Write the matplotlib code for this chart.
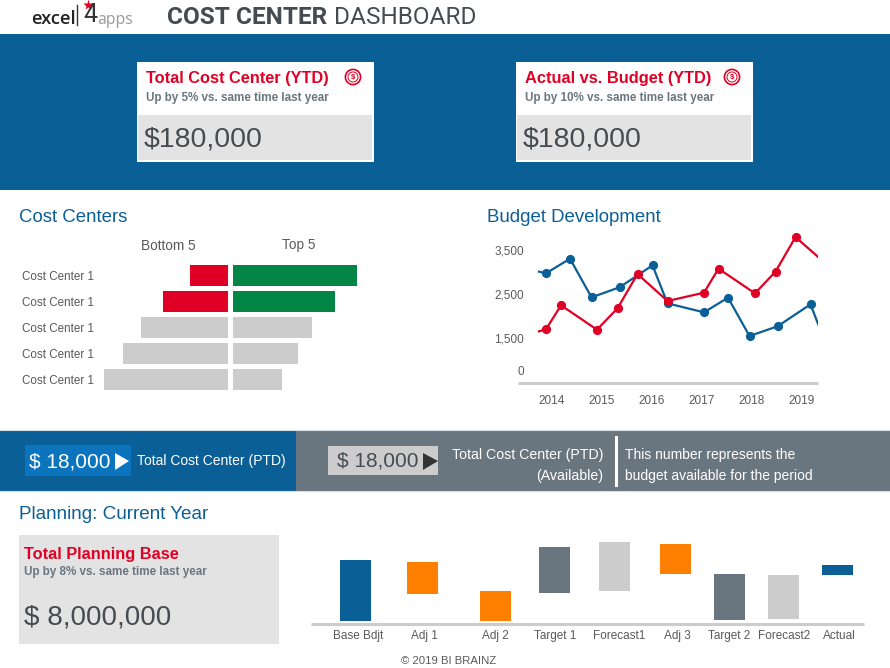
import matplotlib
matplotlib.use("Agg")
import matplotlib.pyplot as plt
from matplotlib.patches import Rectangle, Polygon, Circle

W, H = 890, 668
BLUE = "#0B5F97"
RED = "#E10025"
GREEN = "#038545"
GREY = "#CCCCCC"
SLATE = "#6A767F"
PALE = "#E3E3E3"
ORANGE = "#FF8000"
DARK = "#454B50"
TXT = "#595959"

plt.rcParams["font.family"] = ["Liberation Sans", "DejaVu Sans"]

# cost centers
cc_labels = ["Cost Center 1"] * 5
bottom5 = [38, 65, 87, 105, 124]
top5 = [124, 102, 79, 65, 49]
bottom_cols = [RED, RED, GREY, GREY, GREY]
top_cols = [GREEN, GREEN, GREY, GREY, GREY]

# budget development
years = [2014, 2015, 2016, 2017, 2018, 2019]
blue_t = [2013.74, 2013.88, 2014.36, 2014.79, 2015.35, 2016.01, 2016.31, 2017.04, 2017.52, 2017.95, 2018.51, 2019.17, 2019.33]
blue_v = [3008, 2970, 3303, 2424, 2652, 3152, 2288, 2083, 2417, 1545, 1765, 2265, 1795]
red_t = [2013.74, 2013.88, 2014.18, 2014.90, 2015.31, 2015.71, 2016.31, 2017.04, 2017.33, 2018.06, 2018.47, 2018.87, 2019.33]
red_v = [1652, 1697, 2243, 1689, 2174, 2955, 2341, 2530, 3076, 2515, 3008, 3795, 3334]
ytick_pos = [750, 1500, 2500, 3500]
ytick_txt = ["0", "1,500", "2,500", "3,500"]

# planning
plan_labels = ["Base Bdjt", "Adj 1", "Adj 2", "Target 1", "Forecast1", "Adj 3", "Target 2", "Forecast2", "Actual"]
plan_low = [3, 30, 3, 31, 33, 50, 4, 5, 49]
plan_high = [64, 62, 33, 77, 82, 80, 50, 49, 59]
plan_cols = [BLUE, ORANGE, ORANGE, SLATE, GREY, ORANGE, SLATE, GREY, BLUE]
plan_x = [355.5, 422.5, 495.5, 554.5, 614.5, 675.5, 729.5, 783, 837.5]
plan_tick_x = [358, 424, 495.5, 555, 619, 677, 729, 784, 839]


def px_axes(x0, y0, x1, y1):
    # axes placed by pixel box, y measured from the top of the image
    return fig.add_axes([x0 / W, 1 - y1 / H, (x1 - x0) / W, (y1 - y0) / H], facecolor="none")


def box(x0, y0, x1, y1, col, **kw):
    bg.add_patch(Rectangle((x0, y0), x1 - x0, y1 - y0, facecolor=col, edgecolor="none", **kw))


def txt(x, y, s, size, col=TXT, ha="left", **kw):
    bg.text(x, y + 1.5, s, fontsize=size, color=col, ha=ha, va="center", **kw)


def kpi_card(x):
    box(x, 62, x + 237, 162, "white")
    box(x + 0.5, 115, x + 235, 160, PALE)
    txt(x + 9, 77, "Total Cost Center (YTD)" if x < 300 else "Actual vs. Budget (YTD)", 11.8, RED, weight="bold")
    txt(x + 9, 96, "Up by 5% vs. same time last year" if x < 300 else "Up by 10% vs. same time last year", 8.35, SLATE, weight="bold")
    txt(x + 7, 137.5, "$180,000", 20.5, DARK)
    cx = x + 216
    bg.add_patch(Circle((cx, 77), 7.6, facecolor="white", edgecolor=RED, linewidth=1.2))
    bg.add_patch(Circle((cx, 77), 5, facecolor="white", edgecolor=RED, linewidth=0.7))
    txt(cx, 76, "$", 5.5, RED, ha="center", weight="bold")


fig = plt.figure(figsize=(8.9, 6.68), dpi=100, facecolor="white")
bg = fig.add_axes([0, 0, 1, 1])
bg.set_xlim(0, W)
bg.set_ylim(H, 0)
bg.axis("off")

# header
txt(31, 17.5, "excel", 13.2, "#222222", family="Open Sans", weight="semibold")
bg.plot([77, 77], [5, 25], color="#333333", lw=1)
txt(83, 14, "4", 18, "#333333", family="Roboto")
txt(97, 18.5, "apps", 11.3, "#999999", family="Open Sans")
bg.plot([88], [5], marker="*", ms=8, color=RED, mec="none")
txt(167, 16, "COST CENTER", 17.6, DARK, family="Roboto", weight="bold")
txt(334, 16, "DASHBOARD", 17.6, DARK, family="Roboto")

# bands
box(0, 34, W, 190, BLUE)
kpi_card(137)
kpi_card(516)
box(0, 430, 296, 491, BLUE)
box(296, 430, W, 491, SLATE)
bg.plot([0, W], [430, 430], color="#D5DEE5", lw=0.8)
bg.plot([0, W], [491, 491], color="#D5DEE5", lw=0.8)

box(25, 445, 131, 476, "#0B74BD")
txt(29, 460, "$ 18,000", 15, "white")
bg.add_patch(Polygon([(115, 453), (129, 461), (115, 470)], facecolor="white"))
txt(137, 459.5, "Total Cost Center (PTD)", 10, "white")

box(328, 446, 438, 475, GREY)
txt(337, 459.5, "$ 18,000", 15, DARK)
bg.add_patch(Polygon([(423, 453), (438, 461), (423, 470)], facecolor="#333333"))
txt(603, 453.5, "Total Cost Center (PTD)", 10.2, "white", ha="right")
txt(603, 474.5, "(Available)", 10.2, "white", ha="right")
bg.plot([616, 616], [437, 485], color="white", lw=2.2)
txt(625, 454, "This number represents the", 10, "white")
txt(625, 474.5, "budget available for the period", 10, "white")

# section headings
txt(19, 216, "Cost Centers", 13.4, BLUE)
txt(487, 216, "Budget Development", 13.4, BLUE)
txt(19, 513, "Planning: Current Year", 13.6, BLUE)
txt(168.5, 244.5, "Bottom 5", 9.8, TXT, ha="center")
txt(298.5, 244, "Top 5", 9.8, TXT, ha="center")

# planning card
box(19, 535, 279, 644, PALE)
txt(24, 553, "Total Planning Base", 11.8, RED, weight="bold")
txt(24, 571, "Up by 8% vs. same time last year", 8.35, SLATE, weight="bold")
txt(24, 616, "$ 8,000,000", 20, DARK)
txt(449, 659.5, "\u00a9 2019 BI BRAINZ", 8.2, TXT, ha="center")

# bottom 5 / top 5 bars
ax_b = px_axes(100, 262, 228, 393)
ax_b.barh(range(5), bottom5, height=0.8, color=bottom_cols)
ax_b.set_xlim(128, 0)
ax_b.set_ylim(4.5, -0.5)
ax_b.set_yticks(range(5), cc_labels, fontsize=8.4, color=TXT)
ax_b.tick_params(axis="y", length=0, pad=4.5)
ax_b.xaxis.set_visible(False)
for s in ax_b.spines.values():
    s.set_visible(False)

ax_t = px_axes(233, 262, 361, 393)
ax_t.barh(range(5), top5, height=0.8, color=top_cols)
ax_t.set_xlim(0, 128)
ax_t.set_ylim(4.5, -0.5)
ax_t.axis("off")

# budget lines
ax_l = px_axes(518, 230, 818, 383)
ax_l.plot(blue_t, blue_v, color=BLUE, lw=1.6, marker="o", ms=5.6, markevery=list(range(1, 12)), solid_joinstyle="miter")
ax_l.plot(red_t, red_v, color=RED, lw=1.6, marker="o", ms=5.6, markevery=list(range(1, 12)), solid_joinstyle="miter")
ax_l.set_xlim(2013.32, 2019.32)
ax_l.set_ylim(477, 3955)
ax_l.set_xticks(years, [str(y) for y in years], fontsize=8.5, color=TXT)
ax_l.set_yticks(ytick_pos, ytick_txt, fontsize=8.5, color=TXT)
ax_l.tick_params(axis="x", length=0, pad=9)
ax_l.tick_params(axis="y", length=0, pad=-4.5)
for s in ["top", "left", "right"]:
    ax_l.spines[s].set_visible(False)
ax_l.spines["bottom"].set_color(GREY)
ax_l.spines["bottom"].set_linewidth(2.2)
ax_l.spines["bottom"].set_capstyle("butt")

# planning waterfall
ax_p = px_axes(311, 535, 864, 624)
ax_p.bar(plan_x, [h - l for h, l in zip(plan_high, plan_low)], bottom=plan_low, width=31, color=plan_cols)
ax_p.set_xlim(311, 864)
ax_p.set_ylim(0, 89)
ax_p.set_xticks(plan_tick_x, plan_labels, fontsize=8.5, color=TXT)
ax_p.tick_params(axis="x", length=0, pad=4)
ax_p.yaxis.set_visible(False)
for s in ["top", "left", "right"]:
    ax_p.spines[s].set_visible(False)
ax_p.spines["bottom"].set_color(GREY)
ax_p.spines["bottom"].set_linewidth(2.2)
ax_p.spines["bottom"].set_capstyle("butt")

fig.savefig("out.png", dpi=100)
